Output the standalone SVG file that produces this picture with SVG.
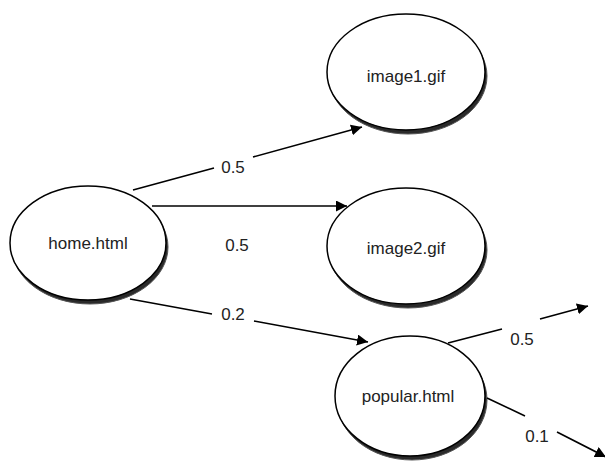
<svg xmlns="http://www.w3.org/2000/svg" width="605" height="462" viewBox="0 0 605 462">
<style>
.shadow{fill:#2a2a2a;stroke:#555;stroke-width:1}
.node{fill:#fff;stroke:#000;stroke-width:1.5}
.lbl{font-family:"Liberation Sans",Arial,sans-serif;font-size:17px;fill:#222;text-anchor:middle}
.edge{fill:none;stroke:#000;stroke-width:1.6}
</style>
<defs>
<marker id="arr" markerUnits="userSpaceOnUse" markerWidth="12" markerHeight="12" refX="11" refY="5.5" orient="auto">
<path d="M0,0 L11,5.5 L0,11 z" fill="#000"/>
</marker>
</defs>
<rect width="605" height="462" fill="#fff"/>
<g id="home">
<ellipse class="shadow" cx="90" cy="247" rx="78" ry="57"/>
<ellipse class="node" cx="88" cy="243" rx="78" ry="57"/>
<text class="lbl" x="88" y="249">home.html</text>
</g>
<g id="image1">
<ellipse class="shadow" cx="408" cy="76" rx="79" ry="58"/>
<ellipse class="node" cx="406" cy="72" rx="79" ry="58"/>
<text class="lbl" x="406" y="82">image1.gif</text>
</g>
<g id="image2">
<ellipse class="shadow" cx="408" cy="250" rx="79" ry="58"/>
<ellipse class="node" cx="406" cy="246" rx="79" ry="58"/>
<text class="lbl" x="406" y="254">image2.gif</text>
</g>
<g id="popular">
<ellipse class="shadow" cx="412" cy="400" rx="75" ry="60"/>
<ellipse class="node" cx="410" cy="396" rx="75" ry="60"/>
<text class="lbl" x="408" y="402">popular.html</text>
</g>
<g id="connectors">
<path class="edge" d="M133,190 L214,168 M253,157 L362,127" marker-end="url(#arr)"/>
<path class="edge" d="M152,206 L347,206" marker-end="url(#arr)"/>
<path class="edge" d="M130,299 L212,314 M254,321 L368,342" marker-end="url(#arr)"/>
<path class="edge" d="M448,343 L502,329 M540,319 L588,306" marker-end="url(#arr)"/>
<path class="edge" d="M487,398 L525,416 M557,432 L606,457" marker-end="url(#arr)"/>
</g>
<g id="labels">
<text class="lbl" x="233" y="173">0.5</text>
<text class="lbl" x="237" y="251">0.5</text>
<text class="lbl" x="233" y="320">0.2</text>
<text class="lbl" x="522" y="345">0.5</text>
<text class="lbl" x="537" y="442">0.1</text>
</g>
</svg>
